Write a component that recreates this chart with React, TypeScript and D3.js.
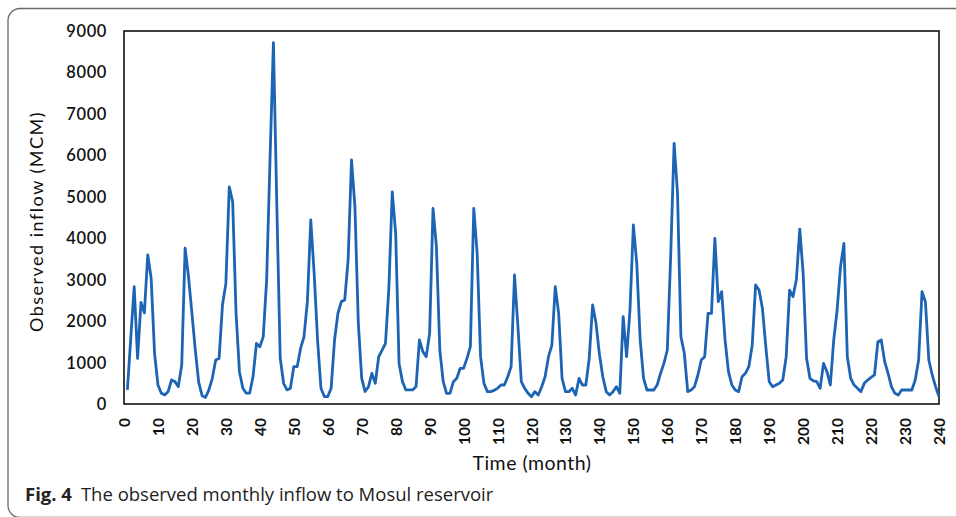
import * as d3 from 'd3';

// observed monthly inflow (MCM), months 1..240
const inflow = [
  340, 1600, 2830, 1100, 2450, 2200, 3600, 3030, 1220, 460, 260, 220,
  300, 580, 540, 420, 940, 3760, 3070, 2190, 1300, 520, 200, 160,
  340, 620, 1060, 1100, 2390, 2910, 5240, 4880, 2190, 780, 380, 260,
  260, 660, 1460, 1380, 1620, 2990, 5900, 8720, 4800, 1110, 500, 340,
  380, 900, 900, 1340, 1620, 2470, 4440, 3150, 1545, 380, 180, 180,
  380, 1545, 2190, 2470, 2510, 3475, 5890, 4760, 1950, 620, 300, 418,
  740, 500, 1140, 1300, 1460, 2800, 5120, 4120, 980, 540, 340, 340,
  340, 420, 1545, 1263, 1142, 1705, 4722, 3796, 1303, 539, 257, 257,
  539, 619, 861, 861, 1100, 1383, 4722, 3635, 1142, 498, 298, 298,
  330, 378, 458, 458, 659, 901, 3113, 1866, 539, 378, 257, 177,
  298, 217, 418, 659, 1142, 1423, 2831, 2188, 619, 298, 298, 378,
  217, 619, 458, 458, 1102, 2389, 1947, 1200, 659, 298, 217, 298,
  418, 257, 2107, 1142, 2268, 4319, 3394, 1545, 619, 338, 338, 338,
  458, 740, 981, 1303, 3600, 6290, 5083, 1625, 1223, 298, 338, 418,
  700, 1062, 1142, 2188, 2188, 3998, 2469, 2710, 1545, 780, 458, 338,
  298, 659, 740, 901, 1423, 2871, 2750, 2308, 1383, 539, 418, 458,
  500, 579, 1142, 2750, 2590, 3000, 4219, 3153, 1102, 619, 560, 539,
  378, 981, 780, 458, 1545, 2268, 3314, 3876, 1142, 619, 458, 380,
  298, 498, 579, 640, 700, 1504, 1545, 1022, 740, 418, 257, 217,
  338, 338, 338, 338, 579, 1062, 2710, 2469, 1062, 700, 418, 177,
];

const xTicks = [0, 10, 20, 30, 40, 50, 60, 70, 80, 90, 100, 110, 120, 130, 140, 150, 160, 170, 180, 190, 200, 210, 220, 230, 240];
const yTicks = [0, 1000, 2000, 3000, 4000, 5000, 6000, 7000, 8000, 9000];

const W = 956;
const H = 517;
const plot = { left: 124, right: 939, top: 31, bottom: 404 };
const chartFont = 'Lato, "Open Sans", sans-serif';
const lineColor = '#1d64b4';

export default function App() {
  const x = d3.scaleLinear().domain([0, 240]).range([plot.left, plot.right]);
  const y = d3.scaleLinear().domain([0, 9000]).range([plot.bottom, plot.top]);

  const line = d3.line<number>()
    .x((_, i) => x(i + 1))
    .y(d => y(d));

  return (
    <svg
      width={W}
      height={H}
      style={{ position: 'absolute', left: 0, top: 0, background: '#fff' }}
    >
      {/* outer figure frame */}
      <rect x={8} y={8.5} width={980} height={509} rx={12} fill="none" stroke="#6a6a6a" strokeWidth={1.3} />

      {/* plot box */}
      <rect
        x={plot.left}
        y={plot.top}
        width={plot.right - plot.left}
        height={plot.bottom - plot.top}
        fill="none"
        stroke="#111"
        strokeWidth={1.6}
      />

      <path d={line(inflow) ?? ''} fill="none" stroke={lineColor} strokeWidth={2.8} strokeLinejoin="round" />

      {/* y tick labels */}
      {yTicks.map(t => (
        <text
          key={t}
          x={107}
          y={y(t)}
          textAnchor="end"
          dominantBaseline="central"
          fontFamily={chartFont}
          fontSize={16.5}
          fontWeight={600}
          letterSpacing={0.6}
          fill="#111"
        >
          {t}
        </text>
      ))}

      {/* x tick labels, rotated */}
      {xTicks.map(t => (
        <text
          key={t}
          transform={`translate(${x(t)},418) rotate(-90)`}
          textAnchor="end"
          dominantBaseline="central"
          fontFamily={chartFont}
          fontSize={15.5}
          fontWeight={700}
          fill="#111"
        >
          {t}
        </text>
      ))}

      <text
        transform={`translate(43,${(plot.top + plot.bottom) / 2 + 4}) rotate(-90)`}
        textAnchor="middle"
        fontFamily={chartFont}
        fontSize={18}
        letterSpacing={1.5}
        fill="#111"
      >
        Observed inflow (MCM)
      </text>

      <text x={532} y={470} textAnchor="middle" fontFamily={chartFont} fontSize={19.5} letterSpacing={0.5} fill="#111">
        Time (month)
      </text>

      <text x={25} y={501} fontFamily='"Open Sans", sans-serif' fontSize={18.5} fill="#222">
        <tspan fontWeight={700}>Fig. 4</tspan>
        <tspan dx={9}>The observed monthly inflow to Mosul reservoir</tspan>
      </text>
    </svg>
  );
}
